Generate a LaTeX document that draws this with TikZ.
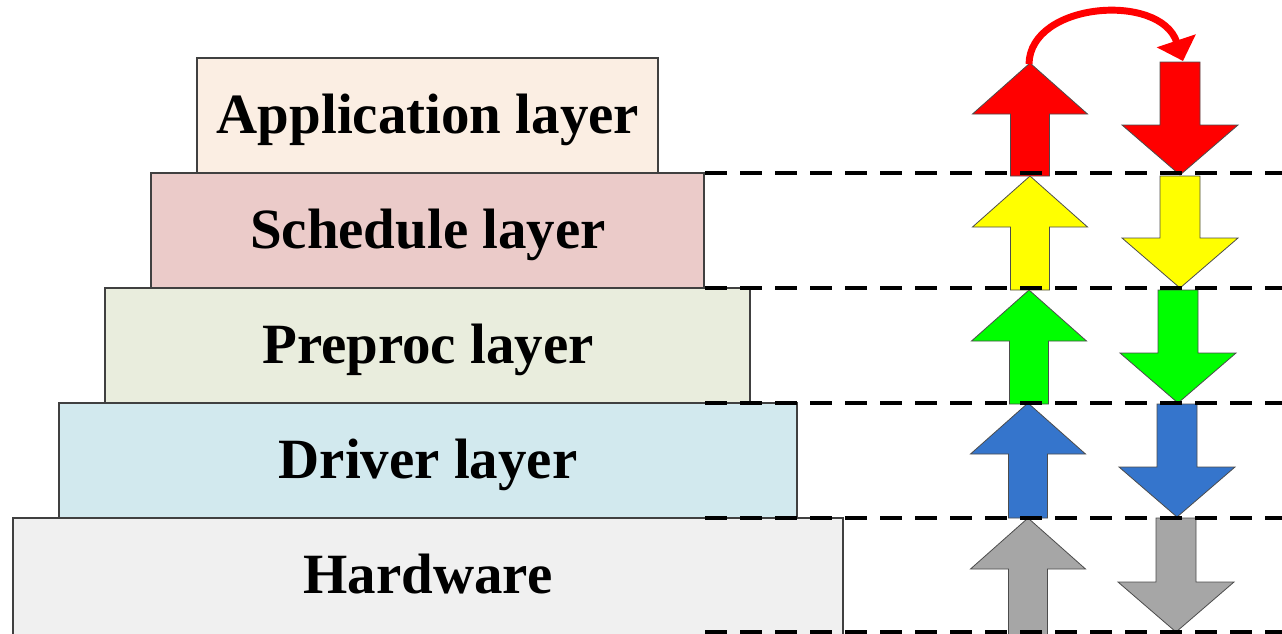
\documentclass[tikz,border=0pt]{standalone}
\usepackage{fontspec}
\setmainfont{Liberation Serif}
\usetikzlibrary{arrows.meta}

\definecolor{appC}{HTML}{FBEEE3}
\definecolor{schC}{HTML}{EBCBC9}
\definecolor{preC}{HTML}{E9EDDD}
\definecolor{drvC}{HTML}{D2E9EE}
\definecolor{hwC}{HTML}{F0F0F0}
\definecolor{flowRed}{HTML}{FF0000}
\definecolor{flowYellow}{HTML}{FFFF00}
\definecolor{flowGreen}{HTML}{00FF00}
\definecolor{flowBlue}{HTML}{3575CC}
\definecolor{flowGray}{HTML}{A6A6A6}

\tikzset{
  layerbox/.style={draw=black!75, line width=0.8pt},
  layertext/.style={font=\fontsize{42.7}{50}\selectfont\bfseries, anchor=base, inner sep=0pt},
  flowshape/.style={draw=black!70, line width=0.6pt, line join=miter},
  levelline/.style={draw=black, line width=2.4pt, dash pattern=on 16.5pt off 9.75pt},
  hop/.style={draw=flowRed, line width=5.2pt, -{Triangle[length=16pt, width=30pt]}},
}

% upward block arrow: centre x, tip y, bottom y, colour
\newcommand{\UpBlock}[4]{%
  \path[flowshape, fill=#4]
    (#1,#2) -- ++(57.5,51) -- ++(-38,0) -- (#1+19.5,#3) -- (#1-19.5,#3)
    -- (#1-19.5,#2+51) -- (#1-57.5,#2+51) -- cycle;}
% downward block arrow: centre x, top y, tip y, colour
\newcommand{\DownBlock}[4]{%
  \path[flowshape, fill=#4]
    (#1-20,#2) -- (#1+20,#2) -- (#1+20,#3-50) -- (#1+58,#3-50) -- (#1,#3)
    -- (#1-58,#3-50) -- (#1-20,#3-50) -- cycle;}

\begin{document}
\begin{tikzpicture}[x=0.75pt, y=-0.75pt]
  \useasboundingbox (0,0) rectangle (1282,633);

  % stacked layers, widest at the bottom
  \path[layerbox, fill=hwC]  (13,518)  rectangle (843,650);
  \path[layerbox, fill=drvC] (59,403)  rectangle (797,518);
  \path[layerbox, fill=preC] (105,288) rectangle (750,403);
  \path[layerbox, fill=schC] (151,173) rectangle (704,288);
  \path[layerbox, fill=appC] (197,58)  rectangle (658,173);

  \node[layertext] (app) at (428,133) {Application layer};
  \node[layertext] (sch) at (428,248) {Schedule layer};
  \node[layertext] (pre) at (428,363) {Preproc layer};
  \node[layertext] (drv) at (428,478) {Driver layer};
  \node[layertext] (hw)  at (428,593) {Hardware};

  % data flowing up through the stack
  \UpBlock{1028}{518}{645}{flowGray}
  \UpBlock{1028}{403}{518}{flowBlue}
  \UpBlock{1029}{290}{404}{flowGreen}
  \UpBlock{1030}{176}{290}{flowYellow}
  \UpBlock{1030}{63}{176}{flowRed}

  % and back down
  \DownBlock{1176}{518}{632}{flowGray}
  \DownBlock{1177}{404}{517}{flowBlue}
  \DownBlock{1178}{290}{403}{flowGreen}
  \DownBlock{1180}{176}{288}{flowYellow}
  \DownBlock{1180}{62}{175}{flowRed}

  % turn-around at the top
  \coordinate (upTop) at (1029,64);
  \coordinate (downTop) at (1183,61);
  \draw[hop] (upTop) .. controls (1030,2) and (1160,-8) .. (downTop);

  % layer boundaries
  \foreach \yy in {173,288,403,518,632}
    \draw[levelline] (705,\yy) -- (1282,\yy);
\end{tikzpicture}
\end{document}
